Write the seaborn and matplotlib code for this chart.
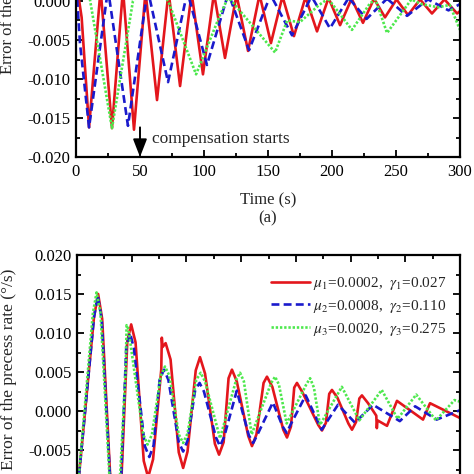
import matplotlib
matplotlib.use("Agg")
import matplotlib.pyplot as plt
import seaborn as sns
import pandas as pd
from matplotlib.ticker import MultipleLocator, FixedLocator, FormatStrFormatter

# ---------------- panel (a) data ----------------
a_t_red = [0, 2.5, 4.4, 10.2, 19.2, 28.1, 36.7, 45.3, 54.3, 63.3, 72.3, 81.3, 90.3, 99.2,
           107.8, 116.4, 125.4, 134.4, 143.4, 152.3, 161.3, 170.3, 179.3, 188.3,
           197.3, 206.3, 215.3, 224.2, 232.8, 241.4, 250.4, 259.4, 268.8, 278.1,
           287.9, 297.7, 300]
a_red = [0.004, 0.000, -0.0021, -0.0162, 0.0015, -0.0163, 0.0015, -0.0165, 0.0012, -0.0127,
         0.0012, -0.0109, 0.001, -0.0094, 0.001, -0.0073, 0.0008, -0.0064, 0.0008, -0.0054,
         0.0006, -0.0045, 0.0005, -0.0039, 0.0004, -0.0031, 0.0003, -0.0028, 0.0003, -0.0021,
         0.0002, -0.0018, 0.0002, -0.0016, 0.0002, -0.0016, -0.0013]

a_t_blue = [0, 1.0, 3.1, 10.2, 25.0, 40.6, 56.0, 71.9, 87.0, 102.3, 119.0, 135.2, 152.0,
            168.8, 184.0, 198.4, 213.0, 227.0, 243.0, 258.6, 275.0, 291.0, 300]
a_blue = [0.003, 0.000, -0.0054, -0.0162, 0.0015, -0.0160, 0.0015, -0.0104, 0.0012, -0.0082,
          0.0010, -0.0063, 0.0008, -0.0044, 0.0006, -0.0035, 0.0004, -0.0023, 0.0003, -0.0019,
          0.0002, -0.0012, -0.0004]

a_t_green = [0, 9.0, 28.1, 44.5, 58.0, 72.0, 93.8, 112.5, 119.0, 155.5, 165.0, 175.0, 190.0,
             197.0, 215.6, 229.7, 234.0, 243.0, 262.0, 270.0, 283.0, 292.0, 300]
a_green = [0.004, 0.002, -0.0163, 0.000, 0.003, 0.000, -0.0094, -0.0018, 0.0005, -0.0066,
           -0.0025, -0.0027, -0.0005, 0.0003, -0.0037, -0.0003, 0.0002, -0.0041, 0.0002,
           -0.0004, -0.0008, -0.0005, -0.0037]

# ---------------- panel (b) data ----------------
b_t_red = [0, 15.5, 19.3, 23.0, 30.2, 35.6, 40.8, 46.0, 49.5, 53.5, 61.0, 65.0, 69.5,
           77.0, 77.5, 78.2, 81.0, 85.5, 93.0, 97.0, 101.0, 108.5, 112.4, 117.0,
           126.0, 129.8, 134.0, 138.5, 141.6, 146.0, 156.5, 159.9, 164.0, 170.5, 173.6,
           178.5, 188.5, 191.9, 195.5, 198.5, 201.0, 206.0, 220.5, 223.9, 227.5, 230.5,
           233.0, 238.0, 248.0, 251.3, 255.0, 258.0, 260.4, 266.0, 273.5, 274.0, 274.6,
           283.3, 292.4, 316.2, 322.6, 350.0]
b_red = [-0.011, 0.0120, 0.0150, 0.0118, -0.008, -0.012, -0.008, 0.0090, 0.0111, 0.0088,
         -0.0064, -0.0085, -0.0062, 0.0053, 0.0094, 0.0082, 0.0087, 0.0066, -0.0053, -0.0073,
         -0.0052, 0.0052, 0.0069, 0.0048, -0.0042, -0.0056, -0.0040, 0.0042, 0.0053, 0.0038,
         -0.0032, -0.0045, -0.0030, 0.0036, 0.0044, 0.0031, -0.0024, -0.0034, -0.0020,
         0.0030, 0.0036, 0.0024, -0.0018, -0.0025, -0.0015, 0.0022, 0.0027, 0.0017,
         -0.0016, -0.0024, -0.0014, 0.0016, 0.0020, 0.0010, -0.0006, -0.0022, -0.0012,
         -0.0019, 0.0013, -0.0011, 0.0010, -0.0009]

b_t_blue = [0, 15.5, 19.0, 22.5, 30.0, 35.3, 40.5, 45.0, 48.5, 52.0, 62.0, 66.1, 70.0, 75.5,
            79.5, 83.5, 93.0, 97.0, 101.0, 108.0, 112.0, 116.0, 127.0, 130.7, 134.5, 146.0,
            157.0, 161.0, 165.0, 179.0, 188.0, 191.6, 195.0, 209.0, 223.6, 238.5, 254.0,
            270.5, 295.0, 309.0, 328.7, 350.0]
b_blue = [-0.011, 0.0120, 0.0148, 0.0118, -0.008, -0.011, -0.008, 0.0082, 0.0100, 0.0080,
          -0.0045, -0.0059, -0.0044, 0.0040, 0.0053, 0.0040, -0.0040, -0.0052, -0.0038,
          0.0027, 0.0036, 0.0025, -0.0034, -0.0045, -0.0033, 0.0026, -0.0031, -0.0041,
          -0.0030, 0.0011, -0.0020, -0.0028, -0.0018, 0.0020, -0.0024, 0.0008, -0.0015,
          0.0008, -0.0013, 0.0006, -0.0011, 0.0001]

b_t_green = [0, 14.5, 17.9, 21.5, 29.5, 34.5, 39.5, 44.5, 45.3, 47.0, 60.5, 64.5, 68.5, 76.5,
             80.4, 84.5, 93.0, 97.0, 101.0, 109.0, 113.0, 117.0, 130.7, 145.5, 149.0, 152.5,
             159.6, 177.5, 181.0, 184.5, 191.6, 209.5, 213.0, 216.5, 222.0, 242.0, 258.0,
             278.5, 293.0, 310.0, 328.0, 345.0, 350.0]
b_green = [-0.011, 0.0125, 0.0152, 0.0125, -0.008, -0.010, -0.008, 0.0053, 0.0110, 0.0105,
           -0.0030, -0.0043, -0.0030, 0.0045, 0.0057, 0.0045, -0.0030, -0.0041, -0.0029,
           0.0040, 0.0049, 0.0038, -0.0035, 0.0040, 0.0049, 0.0038, -0.0030, 0.0036, 0.0044,
           0.0034, -0.0016, 0.0034, 0.0042, 0.0030, -0.0018, 0.0031, -0.0012, 0.0027, -0.0010,
           0.0021, -0.0012, 0.0014, 0.0012]

legend_labels = [r"$\mu_1$=0.0002,  $\gamma_1$=0.027",
                 r"$\mu_2$=0.0008,  $\gamma_2$=0.110",
                 r"$\mu_3$=0.0020,  $\gamma_3$=0.275"]

# ---------------- styling ----------------
sns.set_theme(style="ticks")
plt.rcParams["font.family"] = ["Liberation Serif", "DejaVu Serif"]
plt.rcParams["mathtext.fontset"] = "stix"
plt.rcParams["axes.unicode_minus"] = False

RED, BLUE, GREEN = "#e3161c", "#1a1acc", "#4de84d"
FS = 12

fig = plt.figure(figsize=(4.74, 4.74), dpi=100)
ax1 = fig.add_axes([76 / 474, 1 - 157 / 474, 384 / 474, 312 / 474])
ax2 = fig.add_axes([77 / 474, 1 - 567 / 474, 383 / 474, 312 / 474])


def draw(ax, t, y, color, kind, label=None):
    df = pd.DataFrame({"t": t, "y": y})
    sns.lineplot(data=df, x="t", y="y", ax=ax, color=color, lw=1.9,
                 estimator=None, sort=False, label=label, legend=False)
    ln = ax.lines[-1]
    ln.set_solid_joinstyle("round")
    if kind == "dash":
        ln.set_dashes((3.0, 1.6))
    elif kind == "dot":
        ln.set_dashes((0.9, 0.7))
    return ln


draw(ax1, a_t_red, a_red, RED, "solid")
draw(ax1, a_t_blue, a_blue, BLUE, "dash")
draw(ax1, a_t_green, a_green, GREEN, "dot")

h1 = draw(ax2, b_t_red, b_red, RED, "solid", legend_labels[0])
h2 = draw(ax2, b_t_blue, b_blue, BLUE, "dash", legend_labels[1])
h3 = draw(ax2, b_t_green, b_green, GREEN, "dot", legend_labels[2])

for ax, xmax in ((ax1, 300), (ax2, 350)):
    ax.set_xlim(0, xmax)
    ax.set_ylim(-0.020, 0.020)
    ax.xaxis.set_major_locator(MultipleLocator(50))
    ax.xaxis.set_minor_locator(MultipleLocator(25))
    ax.yaxis.set_minor_locator(MultipleLocator(0.0025))
    ax.yaxis.set_major_formatter(FormatStrFormatter("%.3f"))
    ax.tick_params(which="both", direction="in", top=True, right=True,
                   colors="black", labelsize=FS, width=1.3)
    ax.tick_params(which="major", length=5, pad=4)
    ax.tick_params(which="minor", length=3)
    for s in ax.spines.values():
        s.set_linewidth(1.6)
        s.set_color("black")
    ax.set_xlabel("")
    ax.set_ylabel("")
    ax.grid(False)

# only the tick labels that fall inside the picture
ax1.yaxis.set_major_locator(FixedLocator([-0.020, -0.015, -0.010, -0.005, 0.000]))
ax2.yaxis.set_major_locator(FixedLocator([-0.005, 0.000, 0.005, 0.010, 0.015, 0.020]))
ax2.tick_params(axis="x", labelbottom=False)

ax1.tick_params(axis="x", pad=5)
ax1.set_xlabel("Time (s)\n(a)", fontsize=FS, labelpad=9, linespacing=1.2)

ax1.annotate("", xy=(50, -0.020), xytext=(50, -0.0162),
             arrowprops=dict(arrowstyle="-|>,head_length=0.9,head_width=0.35",
                             color="black", lw=1.4, shrinkA=0, shrinkB=0))
ax1.text(59, -0.0177, "compensation starts", fontsize=12.5, va="center", ha="left")

fig.text(8 / 474, 1 - 74 / 474, "Error of the precess angle (°)", rotation=90,
         fontsize=12, ha="center", va="bottom")
fig.text(9 / 474, 1 - 269 / 474, "Error of the precess rate (°/s)", rotation=90,
         fontsize=12.5, ha="center", va="top")

leg = ax2.legend(handles=[h1, h2, h3], labels=legend_labels, loc="upper right",
                 bbox_to_anchor=(446 / 474, 1 - 275 / 474), bbox_transform=fig.transFigure,
                 frameon=False, fontsize=11, handlelength=2.6, handletextpad=0.15,
                 labelspacing=0.38, borderpad=0, borderaxespad=0)

fig.savefig("out.png", dpi=100)
